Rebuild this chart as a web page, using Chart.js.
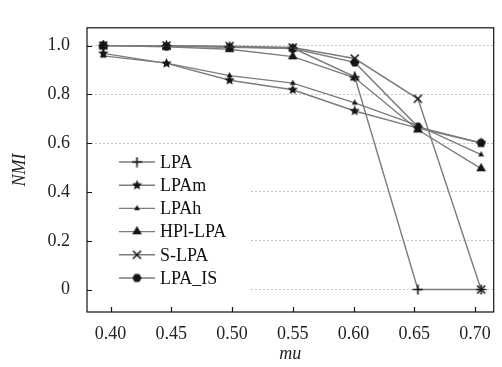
<!DOCTYPE html>
<html>
<head>
<meta charset="utf-8">
<script src="https://cdn.jsdelivr.net/npm/chart.js@4.4.1/dist/chart.umd.min.js"></script>
<style>
  html, body { margin: 0; padding: 0; background: #fff; }
  #wrap { width: 502px; height: 367px; position: relative; }
</style>
</head>
<body>
<div id="wrap"><canvas id="nmiChart"></canvas></div>
<script>
// mu positions of the points (as drawn), tick labels
const muValues = [0.394, 0.446, 0.498, 0.55, 0.601, 0.653, 0.705];
const xTicks = [0.40, 0.45, 0.50, 0.55, 0.60, 0.65, 0.70];
const yTicks = [0, 0.2, 0.4, 0.6, 0.8, 1.0];

// NMI per algorithm
const lpa    = [1.0, 1.0, 0.995, 0.99, 0.872, 0, 0];
const lpam   = [0.968, 0.927, 0.858, 0.819, 0.732, 0.662, 0.601];
const lpah   = [0.958, 0.928, 0.877, 0.846, 0.765, 0.672, 0.553];
const hpl    = [1.0, 0.995, 0.985, 0.955, 0.868, 0.655, 0.496];
const slpa   = [1.0, 1.0, 0.998, 0.992, 0.947, 0.782, 0];
const lpaIs  = [1.0, 0.997, 0.993, 0.988, 0.931, 0.667, 0.601];

const names = ['LPA', 'LPAm', 'LPAh', 'HPl-LPA', 'S-LPA', 'LPA_IS'];
const series = [lpa, lpam, lpah, hpl, slpa, lpaIs];

const lineColor = '#7c7c7c';
const markColor = '#151515';

// little canvas markers
function marker(size, draw) {
  const c = document.createElement('canvas');
  c.width = size; c.height = size;
  const g = c.getContext('2d');
  g.fillStyle = markColor; g.strokeStyle = markColor;
  draw(g, size / 2);
  return c;
}
function poly(g, cx, n, r, rot, inner) {
  g.beginPath();
  const k = inner ? n * 2 : n;
  for (let i = 0; i < k; i++) {
    const rr = inner && i % 2 ? inner : r;
    const a = rot + i * Math.PI * 2 / k;
    const x = cx + rr * Math.cos(a), y = cx + rr * Math.sin(a);
    i ? g.lineTo(x, y) : g.moveTo(x, y);
  }
  g.closePath(); g.fill();
}
const markers = [
  marker(11, (g, c) => { g.lineWidth = 1.6; g.beginPath(); g.moveTo(c, 0.5); g.lineTo(c, 10.5); g.moveTo(0.5, c); g.lineTo(10.5, c); g.stroke(); }),
  marker(11, (g, c) => poly(g, c, 5, 5.4, -Math.PI / 2, 2.4)),
  marker(7, (g, c) => poly(g, c, 3, 3.4, -Math.PI / 2)),
  marker(11, (g, c) => poly(g, c, 3, 5.6, -Math.PI / 2)),
  marker(11, (g, c) => { g.lineWidth = 1.6; g.beginPath(); g.moveTo(1.5, 1.5); g.lineTo(9.5, 9.5); g.moveTo(9.5, 1.5); g.lineTo(1.5, 9.5); g.stroke(); }),
  marker(11, (g, c) => poly(g, c, 6, 4.6, 0))
];

const datasets = series.map((vals, i) => ({
  label: names[i],
  data: vals.map((v, j) => ({ x: muValues[j], y: v })),
  borderColor: lineColor,
  borderWidth: 1.4,
  pointStyle: markers[i],
  pointRadius: 4,
  tension: 0,
  fill: false
}));

// frame, inward ticks and the legend box inside the plot
const decor = {
  id: 'decor',
  afterDatasetsDraw(chart) {
    const ctx = chart.ctx, a = chart.chartArea;
    const xs = chart.scales.x, ys = chart.scales.y;
    ctx.save();
    // legend background
    ctx.fillStyle = '#fff';
    ctx.fillRect(113, 150, 137, 40);
    ctx.fillRect(a.left + 1, 190, 250 - a.left - 1, 112);
    // legend entries
    ctx.font = '18px "Liberation Serif", "Times New Roman", serif';
    ctx.textBaseline = 'middle';
    names.forEach((n, i) => {
      const y = 162 + i * 23.2;
      ctx.strokeStyle = lineColor; ctx.lineWidth = 1.4;
      ctx.beginPath(); ctx.moveTo(119, y); ctx.lineTo(155, y); ctx.stroke();
      const m = markers[i];
      ctx.drawImage(m, 137 - m.width / 2, y - m.height / 2);
      ctx.fillStyle = '#111';
      ctx.fillText(n, 160, y + 1);
    });
    // frame
    ctx.strokeStyle = '#111'; ctx.lineWidth = 1.2;
    ctx.strokeRect(a.left, a.top, a.right - a.left, a.bottom - a.top);
    // inward ticks
    ctx.beginPath();
    yTicks.forEach(t => { const p = Math.round(ys.getPixelForValue(t)) + 0.5; ctx.moveTo(a.left, p); ctx.lineTo(a.left + 5, p); });
    xTicks.forEach(t => { const p = Math.round(xs.getPixelForValue(t)) + 0.5; ctx.moveTo(p, a.bottom); ctx.lineTo(p, a.bottom - 5); });
    ctx.stroke();
    ctx.restore();
  }
};

const tickFont = { family: '"Liberation Serif", "Times New Roman", serif', size: 18 };

new Chart(document.getElementById('nmiChart').getContext('2d'), {
  type: 'line',
  data: { datasets: datasets },
  options: {
    responsive: true,
    maintainAspectRatio: false,
    animation: false,
    layout: { padding: { top: 9, right: 2, left: 0, bottom: 0 } },
    plugins: { legend: { display: false }, tooltip: { enabled: false } },
    scales: {
      x: {
        type: 'linear',
        min: 0.3806,
        max: 0.7154,
        afterBuildTicks: s => { s.ticks = xTicks.map(v => ({ value: v })); },
        afterFit: s => { s.height = 55; },
        grid: { display: false, drawTicks: false },
        border: { display: false },
        ticks: { font: tickFont, color: '#222', padding: 11, maxRotation: 0, callback: v => v.toFixed(2) },
        title: { display: true, text: 'mu', color: '#222', padding: { top: 0, bottom: 2 },
                 font: { family: tickFont.family, size: 18, style: 'italic' } }
      },
      y: {
        min: -0.092,
        max: 1.073,
        afterBuildTicks: s => { s.ticks = yTicks.map(v => ({ value: v })); },
        afterFit: s => { s.width = 87; },
        grid: { color: '#c4c4c4', drawTicks: false },
        border: { display: false, dash: [2, 2] },
        ticks: { font: tickFont, color: '#222', padding: 17, callback: v => v === 0 ? '0' : v.toFixed(1) },
        title: { display: true, text: 'NMI', color: '#222', padding: { top: 9, bottom: 0 },
                 font: { family: tickFont.family, size: 18, style: 'italic' } }
      }
    }
  },
  plugins: [decor]
});
</script>
</body>
</html>
